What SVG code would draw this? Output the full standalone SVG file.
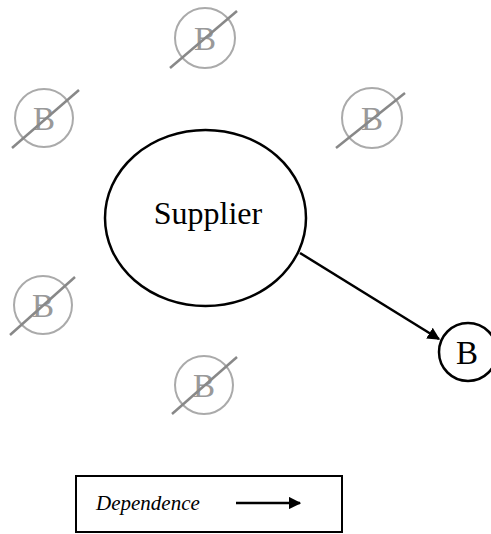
<svg xmlns="http://www.w3.org/2000/svg" width="491" height="534" viewBox="0 0 491 534">
  <style>
    .ghost circle { fill: none; stroke: #aaaaaa; stroke-width: 2; }
    .ghost line { stroke: #888888; stroke-width: 2.5; }
    .ghost text { fill: #999999; font-family: "Liberation Serif", serif; font-size: 33px; text-anchor: middle; }
    .node { fill: #ffffff; stroke: #000000; stroke-width: 2.5; }
    .label { fill: #000000; font-family: "Liberation Serif", serif; text-anchor: middle; }
    .edge { stroke: #000000; stroke-width: 2.5; fill: none; }
  </style>
  <defs>
    <marker id="arrow" viewBox="0 0 10 10" refX="9" refY="5" markerWidth="5" markerHeight="5" orient="auto" markerUnits="strokeWidth">
      <path d="M0,0 L10,5 L0,10 z" fill="#000000"/>
    </marker>
  </defs>
  <rect width="491" height="534" fill="#ffffff"/>

  <!-- crossed-out buyers around the supplier -->
  <g id="ghost-top" class="ghost">
    <circle cx="205" cy="38" r="30"/>
    <text x="205" y="50">B</text>
    <line x1="170" y1="68" x2="237" y2="11"/>
  </g>
  <g id="ghost-left" class="ghost">
    <circle cx="44" cy="118" r="29"/>
    <text x="44" y="130">B</text>
    <line x1="12" y1="148" x2="79" y2="90"/>
  </g>
  <g id="ghost-right" class="ghost">
    <circle cx="372" cy="118" r="30"/>
    <text x="372" y="130">B</text>
    <line x1="336" y1="148" x2="405" y2="93"/>
  </g>
  <g id="ghost-lower-left" class="ghost">
    <circle cx="43" cy="305" r="29"/>
    <text x="43" y="317">B</text>
    <line x1="10" y1="335" x2="75" y2="277"/>
  </g>
  <g id="ghost-bottom" class="ghost">
    <circle cx="204" cy="385" r="29"/>
    <text x="204" y="397">B</text>
    <line x1="172" y1="414" x2="237" y2="357"/>
  </g>

  <!-- supplier -->
  <g id="supplier">
    <ellipse class="node" cx="205.5" cy="218" rx="100.5" ry="88"/>
    <text class="label" x="208" y="224" font-size="32">Supplier</text>
  </g>

  <!-- remaining buyer -->
  <g id="buyer">
    <circle class="node" cx="468" cy="352" r="29"/>
    <text class="label" x="467" y="364" font-size="33">B</text>
  </g>

  <!-- connectors -->
  <g id="connectors">
    <line class="edge" x1="300" y1="253" x2="439" y2="339" marker-end="url(#arrow)"/>
  </g>

  <!-- legend -->
  <g id="legend">
    <rect x="76" y="476" width="266" height="56" fill="#ffffff" stroke="#000000" stroke-width="2"/>
    <text x="96" y="510" font-family="Liberation Serif, serif" font-style="italic" font-size="21" fill="#000000">Dependence</text>
    <line class="edge" x1="236" y1="503" x2="300" y2="503" marker-end="url(#arrow)"/>
  </g>
</svg>
